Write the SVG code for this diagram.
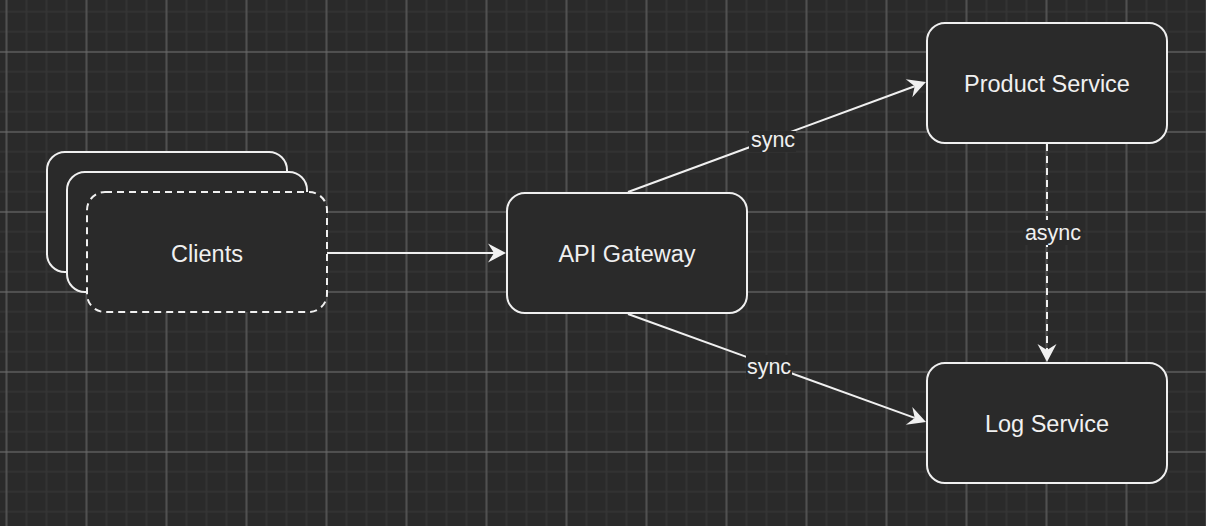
<svg xmlns="http://www.w3.org/2000/svg" width="1206" height="526" viewBox="0 0 1206 526">
  <defs>
    <pattern id="minor" patternUnits="userSpaceOnUse" x="-3.5" y="1.7" width="20" height="20">
      <path d="M10 0V20M0 10H20" stroke="#353535" stroke-width="1.6" fill="none"/>
    </pattern>
    <pattern id="major" patternUnits="userSpaceOnUse" x="-33.5" y="12" width="80" height="80">
      <path d="M40 0V80M0 40H80" stroke="#6e6e6e" stroke-width="1" fill="none"/>
    </pattern>
    <marker id="arrow" markerUnits="userSpaceOnUse" viewBox="-7 -10 20 20" markerWidth="20" markerHeight="20" refX="0" refY="0" orient="auto">
      <path d="M12 0L-6 -9.5L0 0L-6 9.5Z" fill="#f0f0f0"/>
    </marker>
    <style>
      .node { fill: #2a2a2a; stroke: #f0f0f0; stroke-width: 2; }
      .dashed { stroke-dasharray: 7 5; }
      .label { font-family: "Liberation Sans", Arial, sans-serif; font-size: 23.5px; fill: #f0f0f0; text-anchor: middle; }
      .elabel { font-family: "Liberation Sans", Arial, sans-serif; font-size: 21.5px; fill: #f0f0f0; text-anchor: middle; }
      .edge { stroke: #f0f0f0; stroke-width: 2; fill: none; }
      .lbg { fill: #2a2a2a; }
    </style>
  </defs>
  <rect width="1206" height="526" fill="#2a2a2a"/>
  <rect width="1206" height="526" fill="url(#minor)"/>
  <rect width="1206" height="526" fill="url(#major)"/>

  <g id="connectors">
    <path class="edge" d="M327 253H494" marker-end="url(#arrow)"/>
    <path class="edge" d="M628 192L914.7 86.2" marker-end="url(#arrow)"/>
    <path class="edge" d="M628 314L914.7 417.9" marker-end="url(#arrow)"/>
    <path class="edge dashed" d="M1047 144V350" marker-end="url(#arrow)"/>
    <g id="edge-labels">
      <rect class="lbg" x="749" y="131" width="47" height="21"/>
      <text class="elabel" x="773" y="146.5">sync</text>
      <rect class="lbg" x="746" y="355" width="46" height="24"/>
      <text class="elabel" x="769" y="374">sync</text>
      <rect class="lbg" x="1023" y="220" width="60" height="25"/>
      <text class="elabel" x="1053" y="240">async</text>
    </g>
  </g>

  <g id="clients">
    <rect class="node" x="47" y="152" width="240" height="120" rx="18"/>
    <rect class="node" x="67" y="172" width="240" height="120" rx="18"/>
    <rect class="node dashed" x="87" y="192" width="240" height="120" rx="18"/>
    <text class="label" x="207" y="262">Clients</text>
  </g>
  <g id="api-gateway">
    <rect class="node" x="507" y="193" width="240" height="120" rx="18"/>
    <text class="label" x="627" y="262">API Gateway</text>
  </g>
  <g id="product-service">
    <rect class="node" x="927" y="23" width="240" height="120" rx="18"/>
    <text class="label" x="1047" y="92">Product Service</text>
  </g>
  <g id="log-service">
    <rect class="node" x="927" y="363" width="240" height="120" rx="18"/>
    <text class="label" x="1047" y="432">Log Service</text>
  </g>
</svg>
